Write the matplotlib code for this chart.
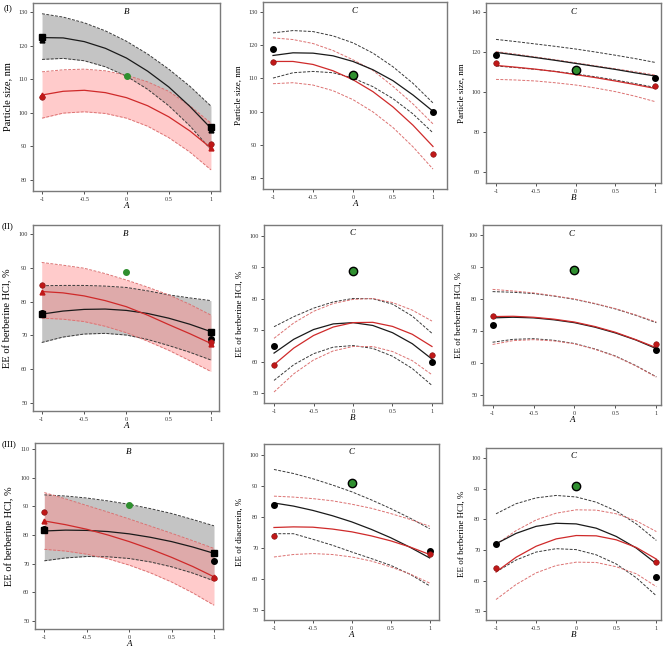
import matplotlib
matplotlib.use("Agg")
import matplotlib.pyplot as plt

plt.rcParams['font.family'] = ['Liberation Serif', 'DejaVu Serif']

X = [-1, -0.75, -0.5, -0.25, 0, 0.25, 0.5, 0.75, 1]
ENDS = [-1, 1]
CENTER = [0]

# (I) particle size, panel 1 (B interaction, bands)
ps1_blk_hi = [129.5, 128.5, 126.8, 124.4, 121.3, 117.5, 113.0, 107.9, 102.0]
ps1_blk_mid = [122.4, 122.3, 121.2, 119.2, 116.3, 112.4, 107.7, 101.9, 95.4]
ps1_blk_lo = [115.9, 116.2, 115.5, 113.7, 110.9, 107.0, 102.1, 96.1, 89.0]
ps1_red_hi = [112.2, 112.8, 113.0, 112.5, 111.2, 109.2, 106.4, 102.1, 96.9]
ps1_red_mid = [105.3, 106.4, 106.7, 106.0, 104.5, 102.1, 98.8, 94.6, 89.5]
ps1_red_lo = [98.4, 99.9, 100.3, 99.8, 98.4, 96.0, 92.6, 88.3, 83.0]
ps1_blk_sq = [122.6, 95.9]
ps1_blk_tri = [121.6, 95.0]
ps1_red_dot = [104.7, 90.8]
ps1_red_tri = [105.3, 89.6]
ps1_green = [110.9]

# (I) panel 2
ps2_blk_hi = [123.7, 124.4, 124.1, 122.8, 120.7, 117.6, 113.5, 108.5, 102.6]
ps2_blk_mid = [116.9, 117.7, 117.6, 116.8, 115.1, 112.6, 109.3, 105.0, 100.1]
ps2_blk_lo = [110.1, 111.7, 112.1, 111.7, 110.1, 107.5, 103.9, 99.3, 93.6]
ps2_red_hi = [122.2, 121.7, 120.5, 118.4, 115.6, 112.4, 107.6, 102.3, 96.3]
ps2_red_mid = [115.1, 115.1, 114.2, 112.3, 109.6, 106.0, 101.4, 95.9, 89.5]
ps2_red_lo = [108.4, 108.7, 108.0, 106.3, 103.6, 99.9, 95.2, 89.4, 82.7]
ps2_blk_dot = [119.0, 100.0]
ps2_red_dot = [115.0, 87.1]
ps2_green = [111.0]

# (I) panel 3
ps3_blk_hi = [126.3, 125.2, 124.0, 122.8, 121.5, 120.0, 118.4, 116.7, 114.8]
ps3_blk_mid = [119.8, 118.5, 117.2, 115.8, 114.3, 112.8, 111.3, 109.6, 108.0]
ps3_blk_lo = [113.0, 112.2, 111.3, 110.3, 109.0, 107.6, 106.0, 104.2, 102.3]
ps3_red_hi = [120.2, 118.9, 117.5, 116.1, 114.6, 113.1, 111.6, 110.1, 108.5]
ps3_red_mid = [113.3, 112.4, 111.4, 110.2, 108.7, 107.2, 105.5, 103.7, 101.8]
ps3_red_lo = [106.3, 106.0, 105.5, 104.6, 103.5, 102.0, 100.2, 97.9, 95.2]
ps3_blk_dot = [118.3, 106.8]
ps3_red_dot = [114.5, 103.0]
ps3_green = [110.8]

# (II) EE of berberine HCl, panel 1
ee1_blk_hi = [84.7, 84.8, 84.8, 84.6, 84.2, 83.2, 82.0, 81.1, 80.3]
ee1_blk_mid = [76.3, 77.2, 77.7, 77.8, 77.4, 76.5, 75.1, 73.3, 71.1]
ee1_blk_lo = [67.9, 69.5, 70.4, 70.6, 70.1, 68.8, 67.0, 65.0, 62.7]
ee1_red_hi = [91.6, 90.8, 89.9, 88.3, 86.4, 84.3, 82.0, 79.2, 76.0]
ee1_red_mid = [83.0, 82.6, 81.7, 80.3, 78.5, 76.0, 73.2, 70.5, 67.6]
ee1_red_lo = [75.1, 74.8, 74.1, 72.7, 70.8, 68.3, 65.6, 62.5, 59.3]
ee1_blk_sq = [76.2, 71.1]
ee1_blk_dot = [76.6, 69.0]
ee1_red_dot = [85.0, 68.0]
ee1_red_tri = [82.9, 67.4]
ee1_green = [88.9]

# (II) panel 2
ee2_blk_hi = [71.1, 74.3, 77.0, 79.0, 80.1, 80.0, 78.3, 74.5, 69.0]
ee2_blk_mid = [62.7, 67.1, 70.2, 72.0, 72.4, 71.5, 69.2, 65.7, 60.8]
ee2_blk_lo = [54.0, 59.0, 62.5, 64.6, 65.1, 64.2, 61.7, 57.8, 52.4]
ee2_red_hi = [67.4, 72.3, 76.0, 78.5, 79.8, 80.1, 78.8, 76.4, 72.9]
ee2_red_mid = [59.0, 64.3, 68.3, 71.0, 72.4, 72.5, 71.2, 68.7, 64.8]
ee2_red_lo = [50.3, 56.1, 60.5, 63.4, 64.8, 64.8, 63.2, 60.3, 55.8]
ee2_blk_dot = [65.0, 60.0]
ee2_red_dot = [59.0, 62.0]
ee2_green = [88.9]

# (II) panel 3
ee3_blk_hi = [82.3, 82.1, 81.7, 80.9, 79.9, 78.5, 76.9, 74.9, 72.6]
ee3_blk_mid = [74.1, 74.3, 74.1, 73.5, 72.6, 71.2, 69.4, 67.2, 64.5]
ee3_blk_lo = [66.5, 67.4, 67.6, 67.1, 66.1, 64.4, 62.2, 59.2, 55.7]
ee3_red_hi = [83.0, 82.5, 81.9, 81.0, 80.0, 78.6, 77.0, 75.0, 72.8]
ee3_red_mid = [74.5, 74.6, 74.3, 73.7, 72.8, 71.4, 69.6, 67.3, 64.8]
ee3_red_lo = [65.8, 67.0, 67.3, 66.9, 66.0, 64.3, 62.1, 59.1, 55.6]
ee3_blk_dot = [72.0, 64.0]
ee3_red_dot = [74.8, 66.0]
ee3_green = [88.9]

# (III) panel 1
eb1_blk_hi = [94.0, 93.6, 92.9, 91.9, 90.7, 89.2, 87.5, 85.4, 83.2]
eb1_blk_mid = [81.4, 81.7, 81.6, 81.2, 80.4, 79.2, 77.7, 75.8, 73.6]
eb1_blk_lo = [71.0, 72.0, 72.5, 72.4, 71.8, 70.6, 68.9, 66.7, 64.0]
eb1_red_hi = [94.8, 92.6, 90.3, 88.0, 85.6, 83.1, 80.6, 78.0, 75.3]
eb1_red_mid = [84.9, 83.6, 82.0, 80.0, 77.7, 75.1, 72.2, 69.0, 65.4]
eb1_red_lo = [75.0, 74.4, 73.3, 71.7, 69.5, 66.8, 63.6, 59.8, 55.5]
eb1_blk_sq = [81.6, 73.6]
eb1_blk_dot = [82.1, 70.8]
eb1_red_dot = [88.0, 64.9]
eb1_red_tri = [84.9, 65.4]
eb1_green = [90.5]

# (III) panel 2, EE of diacerein
ed2_blk_hi = [95.3, 94.0, 92.3, 90.3, 88.1, 85.5, 82.7, 79.6, 76.2]
ed2_blk_mid = [84.5, 83.5, 82.1, 80.4, 78.4, 76.0, 73.3, 70.2, 66.8]
ed2_blk_lo = [74.6, 74.6, 72.8, 70.9, 68.7, 66.6, 64.4, 61.5, 57.8]
ed2_red_hi = [86.7, 86.4, 85.9, 85.2, 84.1, 82.8, 81.1, 79.2, 77.0]
ed2_red_mid = [76.6, 76.8, 76.7, 76.1, 75.2, 73.9, 72.3, 70.3, 67.9]
ed2_red_lo = [67.1, 67.9, 68.2, 67.9, 67.1, 65.8, 63.9, 61.6, 58.7]
ed2_blk_dot = [84.0, 68.9]
ed2_red_dot = [73.8, 68.0]
ed2_green = [90.8]

# (III) panel 3
eb3_blk_hi = [81.8, 85.1, 87.0, 87.8, 87.3, 85.6, 82.7, 78.5, 73.1]
eb3_blk_mid = [72.0, 75.4, 77.7, 78.7, 78.5, 77.1, 74.4, 70.6, 65.5]
eb3_blk_lo = [62.8, 66.7, 69.3, 70.4, 70.1, 68.4, 65.4, 60.9, 55.0]
eb3_red_hi = [71.8, 76.3, 79.8, 82.0, 83.1, 83.0, 81.8, 79.5, 76.0]
eb3_red_mid = [62.8, 67.6, 71.2, 73.6, 74.7, 74.6, 73.3, 70.8, 67.0]
eb3_red_lo = [53.8, 58.7, 62.5, 64.9, 66.0, 65.9, 64.5, 62.2, 58.0]
eb3_blk_dot = [72.0, 61.1]
eb3_red_dot = [64.1, 66.0]
eb3_green = [90.9]

PS = "Particle size, nm"
EE = "EE of berberine HCl, %"
ED = "EE of diacerein, %"

BLK = "#1a1a1a"
BLK_D = "#3a3a3a"
RED = "#cf2a2a"
RED_D = "#dc7272"
GREEN = "#2f8f2f"

W, H = 668, 649

panels = [
    dict(box=(33, 3, 220, 191), xlim=(-1.107, 1.107), ylim=(76.7, 132.7), yticks=range(80, 131, 10),
         ylabel=PS, title="B", xlabel="A", band=True,
         curves=(ps1_blk_hi, ps1_blk_mid, ps1_blk_lo, ps1_red_hi, ps1_red_mid, ps1_red_lo),
         blk_sq=ps1_blk_sq, blk_tri=ps1_blk_tri, red_dot=ps1_red_dot, red_tri=ps1_red_tri,
         green=ps1_green),
    dict(box=(263, 2, 447, 189), xlim=(-1.125, 1.175), ylim=(76.7, 133.0), yticks=range(80, 131, 10),
         ylabel=PS, title="C", xlabel="A", band=False,
         curves=(ps2_blk_hi, ps2_blk_mid, ps2_blk_lo, ps2_red_hi, ps2_red_mid, ps2_red_lo),
         blk_dot=ps2_blk_dot, red_dot=ps2_red_dot, green=ps2_green),
    dict(box=(486, 3, 661, 183), xlim=(-1.126, 1.075), ylim=(54.5, 144.5), yticks=range(60, 141, 20),
         ylabel=PS, title="C", xlabel="B", band=False,
         curves=(ps3_blk_hi, ps3_blk_mid, ps3_blk_lo, ps3_red_hi, ps3_red_mid, ps3_red_lo),
         blk_dot=ps3_blk_dot, red_dot=ps3_red_dot, green=ps3_green),
    dict(box=(33, 225, 219, 411), xlim=(-1.103, 1.095), ylim=(47.6, 102.7), yticks=range(50, 101, 10),
         ylabel=EE, title="B", xlabel="A", band=True,
         curves=(ee1_blk_hi, ee1_blk_mid, ee1_blk_lo, ee1_red_hi, ee1_red_mid, ee1_red_lo),
         blk_sq=ee1_blk_sq, blk_dot=ee1_blk_dot, red_dot=ee1_red_dot, red_tri=ee1_red_tri,
         green=ee1_green),
    dict(box=(264, 225, 442, 403), xlim=(-1.127, 1.127), ylim=(46.8, 103.5), yticks=range(50, 101, 10),
         ylabel=EE, title="C", xlabel="B", band=False,
         curves=(ee2_blk_hi, ee2_blk_mid, ee2_blk_lo, ee2_red_hi, ee2_red_mid, ee2_red_lo),
         blk_dot=ee2_blk_dot, red_dot=ee2_red_dot, green=ee2_green),
    dict(box=(483, 225, 661, 405), xlim=(-1.117, 1.057), ylim=(46.9, 103.1), yticks=range(50, 101, 10),
         ylabel=EE, title="C", xlabel="A", band=False,
         curves=(ee3_blk_hi, ee3_blk_mid, ee3_blk_lo, ee3_red_hi, ee3_red_mid, ee3_red_lo),
         blk_dot=ee3_blk_dot, red_dot=ee3_red_dot, green=ee3_green),
    dict(box=(35, 443, 223, 629), xlim=(-1.11, 1.106), ylim=(47.2, 112.1), yticks=range(50, 111, 10),
         ylabel=EE, title="B", xlabel="A", band=True,
         curves=(eb1_blk_hi, eb1_blk_mid, eb1_blk_lo, eb1_red_hi, eb1_red_mid, eb1_red_lo),
         blk_sq=eb1_blk_sq, blk_dot=eb1_blk_dot, red_dot=eb1_red_dot, red_tri=eb1_red_tri,
         green=eb1_green),
    dict(box=(264, 444, 439, 620), xlim=(-1.128, 1.12), ylim=(46.8, 103.5), yticks=range(50, 101, 10),
         ylabel=ED, title="C", xlabel="A", band=False,
         curves=(ed2_blk_hi, ed2_blk_mid, ed2_blk_lo, ed2_red_hi, ed2_red_mid, ed2_red_lo),
         blk_dot=ed2_blk_dot, red_dot=ed2_red_dot, green=ed2_green),
    dict(box=(486, 448, 661, 620), xlim=(-1.125, 1.058), ylim=(47.1, 103.3), yticks=range(50, 101, 10),
         ylabel=EE, title="C", xlabel="B", band=False,
         curves=(eb3_blk_hi, eb3_blk_mid, eb3_blk_lo, eb3_red_hi, eb3_red_mid, eb3_red_lo),
         blk_dot=eb3_blk_dot, red_dot=eb3_red_dot, green=eb3_green),
]

fig = plt.figure(figsize=(W / 100, H / 100), dpi=100)

for i, p in enumerate(panels):
    l, t, r, b = p["box"]
    ax = fig.add_axes([l / W, 1 - b / H, (r - l) / W, (b - t) / H])
    bh, bm, bl, rh, rm, rl = p["curves"]

    if p["band"]:
        ax.fill_between(X, bl, bh, color="#c4c4c4", lw=0, zorder=1)
        ax.fill_between(X, rl, rh, color="#ff8c8c", alpha=0.45, lw=0, zorder=2)

    ax.plot(X, bh, color=BLK_D, lw=0.7, ls=(0, (3, 1.5)), zorder=3)
    ax.plot(X, bl, color=BLK_D, lw=0.7, ls=(0, (3, 1.5)), zorder=3)
    ax.plot(X, bm, color=BLK, lw=0.9, zorder=4)
    ax.plot(X, rh, color=RED_D, lw=0.7, ls=(0, (3, 1.5)), zorder=3)
    ax.plot(X, rl, color=RED_D, lw=0.7, ls=(0, (3, 1.5)), zorder=3)
    ax.plot(X, rm, color=RED, lw=0.9, zorder=4)

    if "blk_sq" in p:
        ax.plot(ENDS, p["blk_sq"], ls="none", marker="s", ms=4, color="black", zorder=6)
    if "blk_tri" in p:
        ax.plot(ENDS, p["blk_tri"], ls="none", marker="^", ms=3.5, color="black", zorder=6)
    if "blk_dot" in p:
        ax.plot(ENDS, p["blk_dot"], ls="none", marker="o", ms=4, color="black", zorder=6)
    if "red_dot" in p:
        ax.plot(ENDS, p["red_dot"], ls="none", marker="o", ms=4, color="#c01818", mec="#801010",
                mew=0.4, zorder=6)
    if "red_tri" in p:
        ax.plot(ENDS, p["red_tri"], ls="none", marker="^", ms=3.5, color="#c01818", zorder=6)
    if p["band"]:
        ax.plot(CENTER, p["green"], ls="none", marker="o", ms=4, color=GREEN, zorder=6)
    else:
        ax.plot(CENTER, p["green"], ls="none", marker="o", ms=6, color=GREEN, mec="black",
                mew=1.0, zorder=6)

    ax.set_xlim(*p["xlim"])
    ax.set_ylim(*p["ylim"])
    ax.set_xticks([-1, -0.5, 0, 0.5, 1])
    ax.set_xticklabels(["-1", "-0.5", "0", "0.5", "1"])
    ax.set_yticks(list(p["yticks"]))
    ax.tick_params(labelsize=4.5, length=2.5, width=0.6, pad=1.5, colors="#333333")
    for s in ax.spines.values():
        s.set_color("#7a7a7a")
        s.set_linewidth(1.0)

    ylsize = 7.5 if i % 3 == 0 else 6.5
    ax.set_ylabel(p["ylabel"], fontsize=ylsize, labelpad=4)
    ax.set_xlabel(p["xlabel"], fontsize=6.5, style="italic", labelpad=0)
    ax.text(0.5, 0.975, p["title"], transform=ax.transAxes, ha="center", va="top",
            fontsize=6.5, style="italic")

fig.text(4 / W, 1 - 4 / H, "(I)", fontsize=6.5, va="top")
fig.text(2 / W, 1 - 222 / H, "(II)", fontsize=6.5, va="top")
fig.text(2 / W, 1 - 440 / H, "(III)", fontsize=6.5, va="top")

fig.savefig("out.png", dpi=100)
